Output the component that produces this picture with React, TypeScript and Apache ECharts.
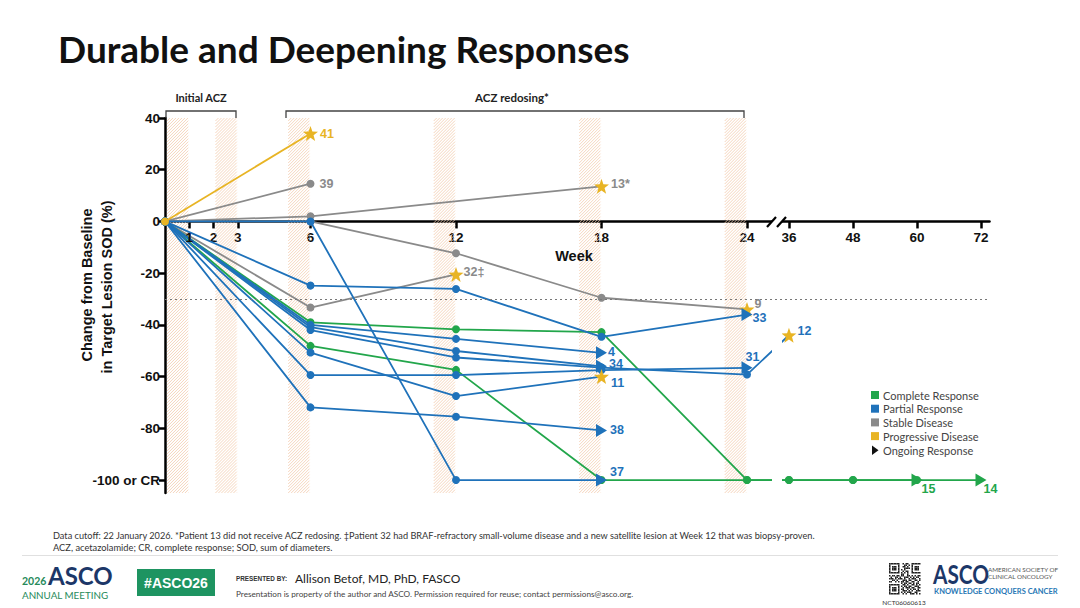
import React, { useEffect, useRef } from 'react';
import * as echarts from 'echarts';

// ---------- colours ----------
const GREEN = '#22a64b';
const BLUE = '#1f72ba';
const GRAY = '#8a8a8a';
const GOLD = '#e8b424';
const HATCH = '#f2cbad';

// ---------- axes ----------
const weekTicks = [1, 2, 3, 6, 12, 18, 24, 36, 48, 60, 72];
const yTicks = [40, 20, 0, -20, -40, -60, -80, -100];
const bandEnds = [1, 3, 6, 12, 18, 24];
const Y_MAX = 40;
const Y_MIN = -105;
const X_MAX = 34;

// broken axis: weeks 0-24 linear, after the break 36-72 compressed
const T = (w: number) => (w <= 24 ? w : 25.73 + (w - 36) * 0.22);
const invT = (t: number) => (t <= 24.5 ? Math.round(t) : Math.round(36 + (t - 25.73) / 0.22));

// ---------- patients: [week, % change] ----------
const pt41 = [[0, 0], [6, 34]];
const pt39 = [[0, 0], [6, 14.6]];
const pt13 = [[0, 0], [6, 2], [18, 13.6]];
const pt9 = [[0, 0], [6, 0], [12, -12.3], [18, -29.5], [24, -34]];
const pt32 = [[0, 0], [6, -33.3], [12, -20.5]];
const pt14 = [[0, 0], [6, -39], [12, -41.7], [18, -42.8], [24, -100], [36, -100], [48, -100], [60, -100], [72, -100]];
const pt15 = [[0, 0], [6, -48.1], [12, -57.4], [18, -100], [24, -100], [36, -100], [48, -100], [60, -100]];
const pt33 = [[0, 0], [6, -24.8], [12, -26.1], [18, -44.6], [24, -36]];
const pt4 = [[0, 0], [6, -40], [12, -45.4], [18, -50.8]];
const pt34 = [[0, 0], [6, -40.9], [12, -50.1], [18, -56]];
const pt12 = [[0, 0], [6, -42], [12, -52.6], [18, -56.5], [24, -59.2], [36, -44]];
const pt31 = [[0, 0], [6, -59.4], [12, -59.4], [18, -57.5], [24, -56.6]];
const pt11 = [[0, 0], [6, -50.7], [12, -67.5], [18, -60]];
const pt38 = [[0, 0], [6, -71.9], [12, -75.5], [18, -80.8]];
const pt37 = [[0, 0], [6, 0], [12, -100], [18, -100]];

const STAR = 'path://M12,0.5 L14.9,8.6 L23.5,8.9 L16.7,14.2 L19.1,22.5 L12,17.6 L4.9,22.5 L7.3,14.2 L0.5,8.9 L9.1,8.6 Z';

type Meta = { id: string; data: number[][]; color: string; end: 'star' | 'arrow' | 'dot'; label: string; labelColor: string; offset: number[] };

const patients: Meta[] = [
  { id: '39', data: pt39, color: GRAY, end: 'dot', label: '39', labelColor: GRAY, offset: [0, 0] },
  { id: '13', data: pt13, color: GRAY, end: 'star', label: '13*', labelColor: GRAY, offset: [-3, -2] },
  { id: '9', data: pt9, color: GRAY, end: 'star', label: '9', labelColor: GRAY, offset: [-5, -5] },
  { id: '32', data: pt32, color: GRAY, end: 'star', label: '32‡', labelColor: GRAY, offset: [-5, -2] },
  { id: '14', data: pt14, color: GREEN, end: 'arrow', label: '14', labelColor: GREEN, offset: [-8, 9] },
  { id: '15', data: pt15, color: GREEN, end: 'arrow', label: '15', labelColor: GREEN, offset: [-6, 9] },
  { id: '33', data: pt33, color: BLUE, end: 'arrow', label: '33', labelColor: BLUE, offset: [-5, 3] },
  { id: '4', data: pt4, color: BLUE, end: 'arrow', label: '4', labelColor: BLUE, offset: [-4, -1] },
  { id: '34', data: pt34, color: BLUE, end: 'arrow', label: '34', labelColor: BLUE, offset: [-3, -2] },
  { id: '12', data: pt12, color: BLUE, end: 'star', label: '12', labelColor: BLUE, offset: [-4, -4] },
  { id: '31', data: pt31, color: BLUE, end: 'arrow', label: '31', labelColor: BLUE, offset: [-12, -11] },
  { id: '11', data: pt11, color: BLUE, end: 'star', label: '11', labelColor: BLUE, offset: [-3, 6] },
  { id: '38', data: pt38, color: BLUE, end: 'arrow', label: '38', labelColor: BLUE, offset: [-2, 0] },
  { id: '37', data: pt37, color: BLUE, end: 'arrow', label: '37', labelColor: BLUE, offset: [-2, -8] },
  { id: '41', data: pt41, color: GOLD, end: 'star', label: '41', labelColor: GOLD, offset: [-3, 0] },
];

const legendItems = [
  ['Complete Response', GREEN],
  ['Partial Response', BLUE],
  ['Stable Disease', GRAY],
  ['Progressive Disease', GOLD],
];

const QR = [
  '111111100101100111111',
  '100000100011010100000',
  '101110100110100101110',
  '101110100011110101110',
  '101110101010000101110',
  '100000100101100100000',
  '111111101010100111111',
  '000000001100100000000',
  '101101101100110101011',
  '010011010011101010110',
  '111010111010010111001',
  '001101000111011001101',
  '110010101101100110010',
  '000000001011011010110',
  '111111100110100110101',
  '100000101011011001110',
  '101110100101110110011',
  '101110101100101011010',
  '101110100111010100111',
  '100000101010111001100',
  '111111100101001110101',
];

const SANS = 'Liberation Sans, Arial, sans-serif';
const LATO = 'Lato, Noto Sans, sans-serif';

// grid geometry
const GRID_TOP = 118;
const GRID_H = 375;
const ZERO_OFFSET = -(GRID_H - (Y_MAX / (Y_MAX - Y_MIN)) * GRID_H);
const X_LABEL_MARGIN = 9;
const X_LABEL_FONT = 13.5;

function buildSeries() {
  const series: any[] = [];
  series.push({
    type: 'custom',
    silent: true,
    z: 1,
    data: bandEnds.map((e) => [e - 0.92, e - 0.04]),
    renderItem: (_p: any, api: any) => {
      const s = api.value(0);
      const e = api.value(1);
      const a = api.coord([s, Y_MAX]);
      const b = api.coord([e, Y_MIN]);
      const x0 = a[0], y0 = a[1], x1 = b[0], y1 = b[1];
      const children: any[] = [];
      const step = 3;
      for (let c = x0 + y0; c <= x1 + y1; c += step) {
        const xs = Math.max(x0, c - y1);
        const ys = c - xs;
        const xe = Math.min(x1, c - y0);
        const ye = c - xe;
        if (xe > xs) children.push({ type: 'line', shape: { x1: xs, y1: ys, x2: xe, y2: ye }, style: { stroke: HATCH, lineWidth: 0.8 } });
      }
      return { type: 'group', children };
    },
    markLine: {
      silent: true,
      symbol: 'none',
      label: { show: false },
      lineStyle: { type: [2, 3], color: '#777', width: 1 },
      data: [{ yAxis: -30 }],
    },
  });
  patients.forEach((p, idx) => {
    const n = p.data.length;
    const data = p.data.map(([w, v], i) => {
      const item: any = { value: [T(w), v], symbol: 'circle', symbolSize: 8 };
      if (i === n - 1) {
        if (p.end === 'star') {
          item.symbol = STAR;
          item.symbolSize = 15;
          item.itemStyle = { color: GOLD };
        } else if (p.end === 'arrow') {
          item.symbol = 'triangle';
          item.symbolRotate = -90;
          item.symbolSize = [13, 11];
        }
        item.label = {
          show: true,
          position: 'right',
          offset: p.offset,
          formatter: p.label,
          color: p.labelColor,
          fontSize: 12.5,
          fontWeight: 'bold',
          fontFamily: SANS,
        };
      }
      return item;
    });
    series.push({
      type: 'line',
      name: p.id,
      z: 3 + idx * 0.01,
      data,
      color: p.color,
      lineStyle: { color: p.color, width: 1.8 },
      itemStyle: { color: p.color },
      showSymbol: true,
      showAllSymbol: true,
      clip: false,
      silent: true,
      emphasis: { disabled: true },
      label: { show: false },
    });
  });
  return series;
}

function txt(x: number, y: number, text: string, font: string, fill: string, align = 'left', extra: any = {}) {
  return {
    type: 'text',
    x,
    y,
    z: 100,
    silent: true,
    ...extra,
    style: { text, font, fill, align, verticalAlign: 'middle', textAlign: align, textVerticalAlign: 'middle' },
  };
}

function buildGraphic() {
  const g: any[] = [];
  // title
  g.push(txt(58, 48, 'Durable and Deepening Responses', `bold 37px ${LATO}`, '#111'));
  // brackets
  g.push({ type: 'polyline', z: 100, silent: true, shape: { points: [[166, 118], [166, 111], [236, 111], [236, 118]] }, style: { stroke: '#444', lineWidth: 1.3, fill: null } });
  g.push({ type: 'polyline', z: 100, silent: true, shape: { points: [[286, 118], [286, 111], [744, 111], [744, 118]] }, style: { stroke: '#444', lineWidth: 1.3, fill: null } });
  g.push(txt(201, 97, 'Initial ACZ', `bold 11px ${LATO}`, '#222', 'center'));
  g.push(txt(512, 97, 'ACZ redosing*', `bold 11.5px ${LATO}`, '#222', 'center'));
  // axis titles
  g.push(txt(574, 256, 'Week', `bold 14.5px ${SANS}`, '#111', 'center'));
  g.push(txt(87, 285, 'Change from Baseline', `bold 14.5px ${SANS}`, '#111', 'center', { rotation: Math.PI / 2 }));
  g.push(txt(107, 287, 'in Target Lesion SOD (%)', `bold 14.5px ${SANS}`, '#111', 'center', { rotation: Math.PI / 2 }));
  // axis break mask & slashes
  g.push({ type: 'rect', z: 100, silent: true, shape: { x: 772, y: 212, width: 10, height: 85 }, style: { fill: '#fff' } });
  g.push({ type: 'rect', z: 100, silent: true, shape: { x: 772, y: 302, width: 10, height: 190 }, style: { fill: '#fff' } });
  g.push({ type: 'line', z: 101, silent: true, shape: { x1: 767, y1: 227, x2: 776, y2: 217 }, style: { stroke: '#000', lineWidth: 2.2 } });
  g.push({ type: 'line', z: 101, silent: true, shape: { x1: 777, y1: 227, x2: 786, y2: 217 }, style: { stroke: '#000', lineWidth: 2.2 } });
  // legend
  legendItems.forEach(([label, color], i) => {
    const y = 395 + i * 13.7;
    g.push({ type: 'rect', z: 100, silent: true, shape: { x: 871, y: y - 4, width: 8, height: 8 }, style: { fill: color } });
    g.push(txt(883, y, label, `11px ${LATO}`, '#444'));
  });
  g.push({ type: 'polygon', z: 100, silent: true, shape: { points: [[872, 445.5], [872, 455], [878.5, 450.3]] }, style: { fill: '#111' } });
  g.push(txt(883, 450.3, 'Ongoing Response', `11px ${LATO}`, '#444'));
  // footnotes
  g.push(txt(53, 535, 'Data cutoff: 22 January 2026. *Patient 13 did not receive ACZ redosing. ‡Patient 32 had BRAF-refractory small-volume disease and a new satellite lesion at Week 12 that was biopsy-proven.', `9.2px ${LATO}`, '#333'));
  g.push(txt(53, 547, 'ACZ, acetazolamide; CR, complete response; SOD, sum of diameters.', `9.3px ${LATO}`, '#333'));
  g.push({ type: 'line', z: 100, silent: true, shape: { x1: 22, y1: 555.5, x2: 1058, y2: 555.5 }, style: { stroke: '#e0e0e0', lineWidth: 1 } });
  // left logo
  g.push({ type: 'text', z: 100, silent: true, x: 22, y: 586, style: { text: '2026', font: `bold 10.5px ${LATO}`, fill: '#268a5a', verticalAlign: 'bottom', textVerticalAlign: 'bottom' } });
  g.push({ type: 'text', z: 100, silent: true, x: 48, y: 587, style: { text: 'ASCO', font: `bold 24px ${LATO}`, fill: '#1c3768', verticalAlign: 'bottom', textVerticalAlign: 'bottom' } });
  g.push(txt(22, 594.5, 'ANNUAL MEETING', `9.8px ${LATO}`, '#268a5a'));
  g.push({ type: 'rect', z: 100, silent: true, shape: { x: 137, y: 569, width: 78, height: 27 }, style: { fill: '#1e9461' } });
  g.push(txt(176, 583, '#ASCO26', `bold 14px ${SANS}`, '#fff', 'center'));
  g.push(txt(236, 578, 'PRESENTED BY:', `bold 7.5px ${SANS}`, '#333', 'left', { scaleX: 0.85 }));
  g.push(txt(295, 578, 'Allison Betof, MD, PhD, FASCO', `12px ${LATO}`, '#222'));
  g.push(txt(236, 594, 'Presentation is property of the author and ASCO. Permission required for reuse; contact permissions@asco.org.', `8.2px ${LATO}`, '#444'));
  // QR
  const m = 1.5;
  QR.forEach((row, r) => {
    for (let c = 0; c < row.length; c++) {
      if (row[c] === '1') g.push({ type: 'rect', z: 100, silent: true, shape: { x: 889 + c * m, y: 563 + r * m, width: m, height: m }, style: { fill: '#222' } });
    }
  });
  g.push(txt(904, 602, 'NCT06060613', `6.5px ${LATO}`, '#333', 'center'));
  // right logo
  g.push({ type: 'text', z: 100, silent: true, x: 933, y: 587, scaleX: 0.8, style: { text: 'ASCO', font: `bold 26px ${LATO}`, fill: '#1c3768', verticalAlign: 'bottom', textVerticalAlign: 'bottom' } });
  g.push(txt(988, 569, 'AMERICAN SOCIETY OF', `6.3px ${LATO}`, '#555'));
  g.push(txt(988, 576, 'CLINICAL ONCOLOGY', `6.3px ${LATO}`, '#555'));
  g.push(txt(934, 591.5, 'KNOWLEDGE CONQUERS CANCER', `bold 7.5px ${LATO}`, '#2878b5'));
  return g;
}

export default function App() {
  const ref = useRef<HTMLDivElement>(null);
  useEffect(() => {
    if (!ref.current) return;
    const chart = echarts.init(ref.current, null, { renderer: 'svg' });
    const xTickVals = weekTicks.map(T);
    const graphicEls = buildGraphic();
    chart.setOption({
      animation: false,
      backgroundColor: '#fff',
      grid: { left: 165, top: GRID_TOP, width: 824.5, height: GRID_H, containLabel: false, outerBoundsMode: 'none' },
      xAxis: {
        type: 'value',
        min: 0,
        max: X_MAX,
        position: 'bottom',
        offset: ZERO_OFFSET,
        axisLine: { show: true, onZero: false, lineStyle: { color: '#000', width: 2.5 } },
        axisTick: { show: true, customValues: xTickVals, length: 7, lineStyle: { color: '#000', width: 2.5 } },
        axisLabel: {
          customValues: xTickVals,
          formatter: (v: number) => String(invT(v)),
          hideOverlap: false,
          showMinLabel: true,
          showMaxLabel: true,
          fontWeight: 'bold',
          fontSize: X_LABEL_FONT,
          fontFamily: SANS,
          color: '#111',
          margin: X_LABEL_MARGIN,
        },
        splitLine: { show: false },
      },
      yAxis: {
        type: 'value',
        min: Y_MIN,
        max: Y_MAX,
        axisLine: { show: true, onZero: false, lineStyle: { color: '#000', width: 2.5 } },
        axisTick: { show: true, customValues: yTicks, length: 6, lineStyle: { color: '#000', width: 2.5 } },
        axisLabel: {
          customValues: yTicks,
          formatter: (v: number) => (v === -100 ? '-100 or CR' : String(v)),
          hideOverlap: false,
          fontWeight: 'bold',
          fontSize: 13.5,
          fontFamily: SANS,
          color: '#111',
          margin: 5,
        },
        splitLine: { show: false },
      },
      series: buildSeries(),
      graphic: { elements: graphicEls },
    });
    // the axis suppresses its first custom label next to the y-axis; place week 1 through the axis scale
    const p = chart.convertToPixel({ gridIndex: 0 }, [T(weekTicks[0]), 0]) as number[];
    if (p) {
      graphicEls.push({
        type: 'text',
        x: p[0],
        y: p[1] + X_LABEL_MARGIN,
        z: 100,
        silent: true,
        style: { text: String(weekTicks[0]), font: `bold ${X_LABEL_FONT}px ${SANS}`, fill: '#111', align: 'center', verticalAlign: 'top', textAlign: 'center', textVerticalAlign: 'top' },
      } as any);
      chart.setOption({ graphic: { elements: graphicEls } }, { replaceMerge: ['graphic'] } as any);
    }
    return () => chart.dispose();
  }, []);
  return <div ref={ref} style={{ position: 'absolute', left: 0, top: 0, width: 1080, height: 608, background: '#fff' }} />;
}
